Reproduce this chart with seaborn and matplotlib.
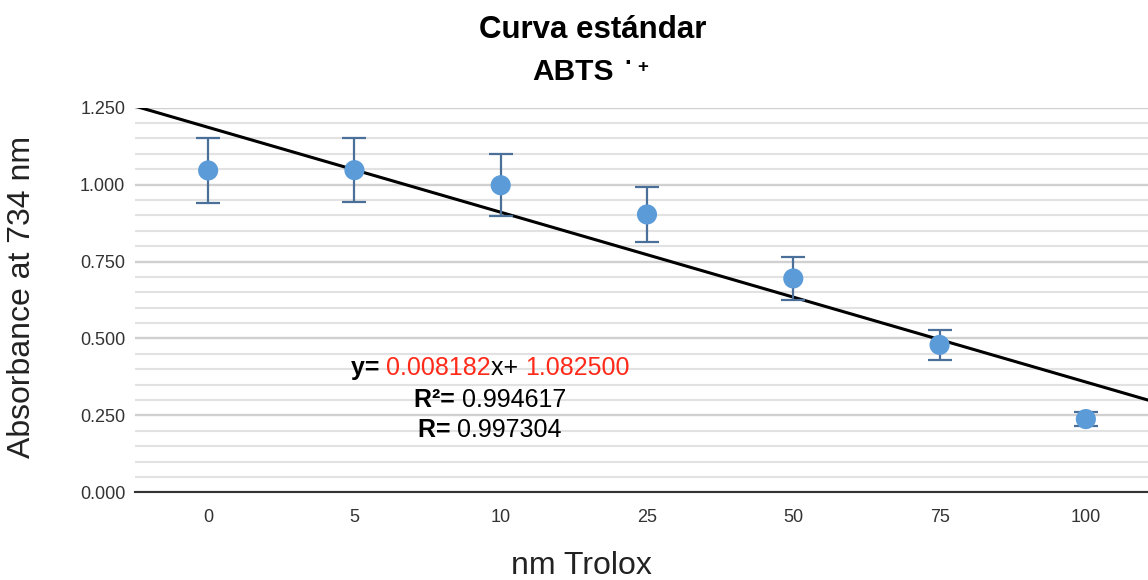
import numpy as np
import matplotlib
matplotlib.use("Agg")
import matplotlib.pyplot as plt
from matplotlib.offsetbox import TextArea, HPacker, AnnotationBbox
from matplotlib.ticker import MultipleLocator, FormatStrFormatter
import seaborn as sns

# Trolox concentrations (categorical axis) and mean absorbance with error
categories = ["0", "5", "10", "25", "50", "75", "100"]
absorbance = [1.046, 1.047, 0.998, 0.903, 0.695, 0.479, 0.238]
error = [0.105, 0.105, 0.100, 0.090, 0.070, 0.048, 0.024]

title_line1 = "Curva estándar"
title_line2 = "ABTS"
eq_slope = "0.008182"
eq_intercept = "1.082500"
r2_value = "0.994617"
r_value = "0.997304"

sns.set_theme(style="white")
plt.rcParams["font.family"] = ["Liberation Sans", "DejaVu Sans"]

W, H = 1148, 580
fig = plt.figure(figsize=(W / 100, H / 100), dpi=100)
# plot area: left 135px, right 1159px (runs slightly past the canvas), y from 0 to 1.25
ax = fig.add_axes([135 / W, (H - 492.3) / H, (1159 - 135) / W, (492.3 - 107.7) / H])

pos = np.arange(len(categories))
ax.set_xlim(-0.5, len(categories) - 0.5)
ax.set_ylim(0, 1.25)

# gridlines every 0.05, slightly darker every 0.25
ax.yaxis.set_major_locator(MultipleLocator(0.25))
ax.yaxis.set_minor_locator(MultipleLocator(0.05))
ax.yaxis.set_major_formatter(FormatStrFormatter("%.3f"))
ax.grid(which="major", axis="y", color="#d0d0d0", lw=1.7, zorder=0)
ax.grid(which="minor", axis="y", color="#e2e2e2", lw=1.5, zorder=0)
ax.grid(which="major", axis="x", visible=False)
ax.set_axisbelow(True)

for s in ["left", "right", "top"]:
    ax.spines[s].set_visible(False)
ax.spines["bottom"].set_color("#333333")
ax.spines["bottom"].set_linewidth(1.5)
ax.spines["bottom"].set_zorder(1)

# least-squares trendline across the whole axis
sns.regplot(x=pos, y=np.array(absorbance), scatter=False, ci=None, truncate=False,
            line_kws=dict(color="black", lw=2.2, zorder=2), ax=ax)
ax.set_xlim(-0.5, len(categories) - 0.5)

# error bars and markers
ax.errorbar(pos, absorbance, yerr=error, fmt="none", ecolor="#4a6f99",
            elinewidth=1.6, capsize=8.6, capthick=1.6, zorder=3)
sns.scatterplot(x=pos, y=absorbance, s=210, color="#5b9bd8", edgecolor="none",
                zorder=4, ax=ax)

ax.set_xticks(pos)
ax.set_xticklabels(categories)
ax.tick_params(axis="x", length=0, pad=12, labelsize=13, labelcolor="#333333")
ax.tick_params(axis="y", which="both", length=0, pad=7, labelsize=13,
               labelcolor="#333333")

ax.set_xlabel("nm Trolox", fontsize=23, color="#222222", va="center")
ax.xaxis.set_label_coords((581.6 - 135) / 1024, (492.3 - 565.5) / 384.6)
ax.set_ylabel("Absorbance at 734 nm", fontsize=23, color="#222222", va="center")
ax.yaxis.set_label_coords((22 - 135) / 1024, (492.3 - 296.7) / 384.6)

# title
fig.text(593 / W, 1 - 30 / H, title_line1, ha="center", va="center",
         fontsize=22.5, fontweight="bold", color="black")
fig.text(614 / W, 1 - 80 / H, title_line2, ha="right", va="baseline",
         fontsize=21.5, fontweight="bold", color="black")
fig.text(628 / W, 1 - 70.5 / H, "·", ha="center", va="baseline",
         fontsize=17, fontweight="bold", color="black")
fig.text(643 / W, 1 - 71.5 / H, "+", ha="center", va="baseline",
         fontsize=13.5, fontweight="bold", color="black")


def text_line(parts, x_px, y_px, size=18):
    boxes = [TextArea(t, textprops=dict(color=c, fontweight=w, fontsize=size))
             for t, c, w in parts]
    pack = HPacker(children=boxes, align="baseline", pad=0, sep=0)
    ab = AnnotationBbox(pack, (x_px / W, 1 - y_px / H), xycoords="figure fraction",
                        box_alignment=(0.5, 0.5), frameon=False, pad=0)
    fig.add_artist(ab)


red = "#ff2a1a"
text_line([("y=\u00a0", "black", "bold"), (eq_slope, red, "normal"),
           ("x+\u00a0", "black", "normal"), (eq_intercept, red, "normal")], 490, 368)
text_line([("R²=\u00a0", "black", "bold"), (r2_value, "black", "normal")], 490, 400)
text_line([("R=\u00a0", "black", "bold"), (r_value, "black", "normal")], 490, 430)

fig.savefig("out.png", dpi=100)
